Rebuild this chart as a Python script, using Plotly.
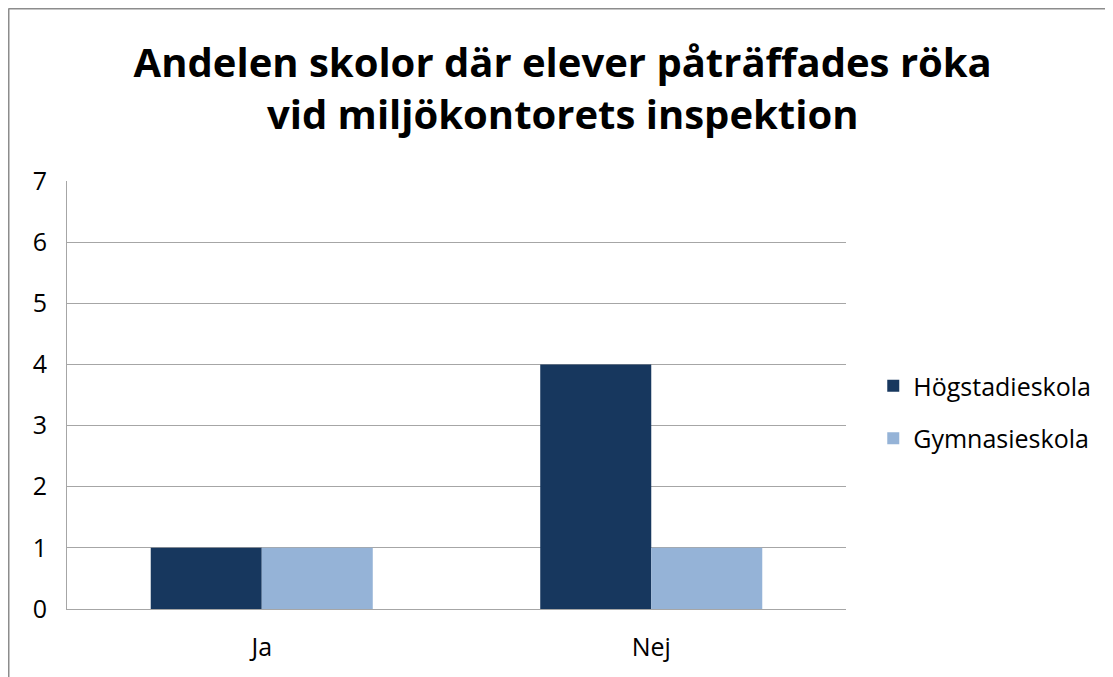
import plotly.graph_objects as go

categories = ["Ja", "Nej"]
hogstadie = [1, 4]
gymnasie = [1, 1]
series_names = ["Högstadieskola", "Gymnasieskola"]
y_ticks = [0, 1, 2, 3, 4, 5, 6, 7]

FONT = "Open Sans, Noto Sans, sans-serif"

# figure sits at page offset (8, 8) because of the default body margin
W, H = 1105, 669
L, R, T, B = 59, 267, 173, 68
PW, PH = W - L - R, H - T - B

fig = go.Figure()
fig.add_trace(go.Bar(x=categories, y=hogstadie, name=series_names[0], legendgroup="a",
                     marker=dict(color="#17375E", line=dict(width=0))))
fig.add_trace(go.Bar(x=categories, y=gymnasie, name=series_names[1], legendgroup="b",
                     marker=dict(color="#95B3D7", line=dict(width=0))))

fig.update_layout(
    width=W, height=H,
    margin=dict(l=L, r=R, t=T, b=B),
    paper_bgcolor="white", plot_bgcolor="white",
    barmode="group", bargap=0.43, bargroupgap=0,
    title=dict(
        text="<b>Andelen skolor där elever påträffades röka<br>vid miljökontorets inspektion</b>",
        x=0.502, xanchor="center", y=0.897, yanchor="middle",
        font=dict(family=FONT, size=40, color="black"),
    ),
    legend=dict(
        x=1.035, xanchor="left", y=0.46, yanchor="middle",
        font=dict(family=FONT, size=25, color="black"),
        itemwidth=30, tracegroupgap=17, traceorder="grouped",
        bgcolor="rgba(0,0,0,0)",
    ),
    showlegend=True,
    xaxis=dict(
        showgrid=False, showline=True, linecolor="#A6A6A6", linewidth=1,
        ticks="", ticklabelstandoff=16,
        tickfont=dict(family=FONT, size=25, color="black"),
        fixedrange=True,
    ),
    yaxis=dict(
        range=[0, 7], tickvals=y_ticks, showgrid=True, gridcolor="#A6A6A6", gridwidth=1,
        showline=True, linecolor="#A6A6A6", linewidth=1, zeroline=False,
        ticks="", ticklabelstandoff=14,
        tickfont=dict(family=FONT, size=25, color="black"),
        fixedrange=True,
    ),
)

# outer frame of the chart (extends past right/bottom edges)
fx = (0.5 - L) / PW
fy = (PH + T - 0.5) / PH
fig.add_shape(type="line", xref="paper", yref="paper",
              x0=fx, x1=fx, y0=-0.3, y1=fy,
              line=dict(color="#8C8C8C", width=2))
fig.add_shape(type="line", xref="paper", yref="paper",
              x0=fx, x1=1.5, y0=fy, y1=fy,
              line=dict(color="#8C8C8C", width=2))

fig.write_html("out.html")
